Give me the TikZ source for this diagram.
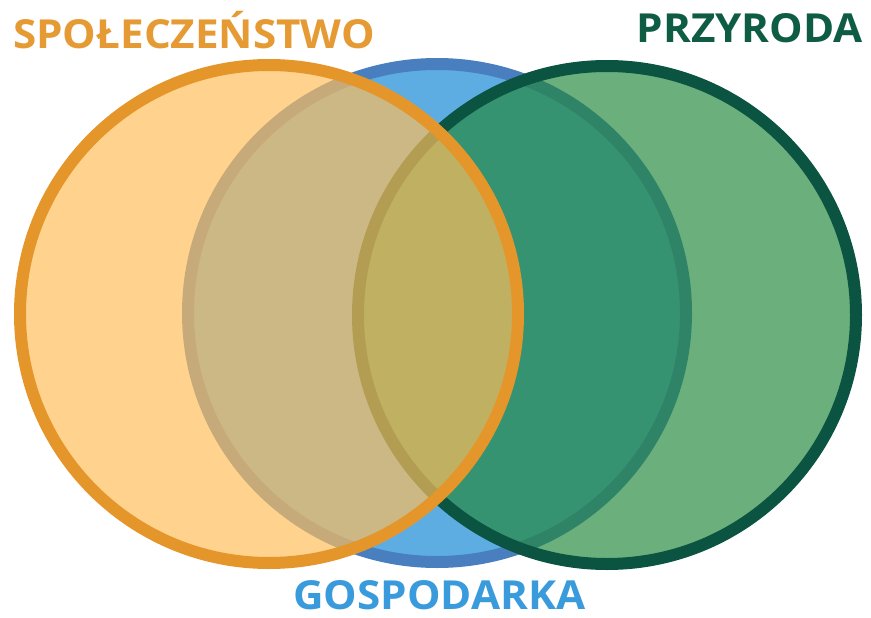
\documentclass[tikz,border=0pt]{standalone}
\usepackage{fontspec}
\setmainfont{Open Sans}
\newfontfamily\labelfont[FakeStretch=1.055]{Open Sans}
\definecolor{bluefill}{RGB}{93,173,226}
\definecolor{bluestroke}{RGB}{74,127,191}
\definecolor{greenfill}{RGB}{34,135,60}
\definecolor{greenstroke}{RGB}{11,84,66}
\definecolor{orangefill}{RGB}{255,190,91}
\definecolor{orangestroke}{RGB}{229,150,43}
\definecolor{orangetext}{RGB}{229,154,51}
\definecolor{greentext}{RGB}{15,92,69}
\definecolor{bluetext}{RGB}{58,155,220}
\begin{document}
\begin{tikzpicture}[x=1pt,y=-1pt,
  ring/.style={line width=12pt},
  label/.style={font=\labelfont\fontsize{40}{40}\selectfont\bfseries, inner sep=0pt}]
\useasboundingbox (0,0) rectangle (871,618);
% economy
\fill[bluefill] (437,313) circle[radius=249];
\draw[ring, bluestroke] (437,313) circle[radius=249];
% nature
\fill[greenfill, fill opacity=0.67] (607,315) circle[radius=249];
\draw[ring, greenstroke] (607,315) circle[radius=249];
% society
\fill[orangefill, fill opacity=0.69] (269,314) circle[radius=249];
\draw[ring, orangestroke] (269,314) circle[radius=249];
% labels
\node[label, text=orangetext, anchor=base west] (spol) at (13,49) {SPOŁECZEŃSTWO};
\node[label, text=greentext, anchor=base east] (przy) at (863,43) {PRZYRODA};
\node[label, text=bluetext, anchor=base west] (gosp) at (293,609) {GOSPODARKA};
\end{tikzpicture}
\end{document}
